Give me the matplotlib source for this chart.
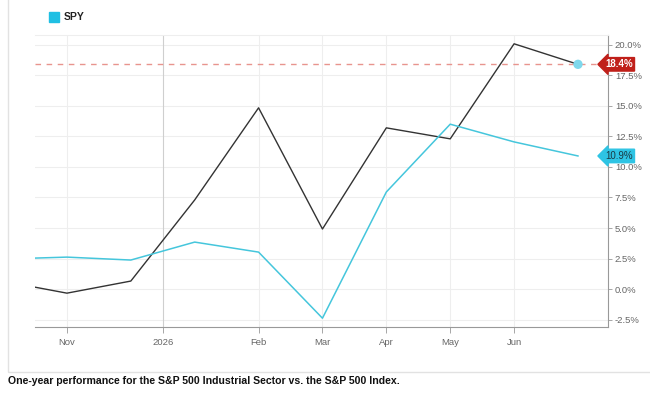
import matplotlib.pyplot as plt
from matplotlib.patches import Rectangle
import matplotlib.transforms as mtransforms

# time index of each sample (axis is category-like, one step per sample)
t = [-0.5, 0, 1, 2, 3, 4, 5, 6, 7, 8]
industrials = [0.16, -0.33, 0.66, 7.3, 14.84, 4.92, 13.2, 12.3, 20.08, 18.4]
spy = [2.54, 2.62, 2.38, 3.85, 3.03, -2.38, 7.95, 13.5, 12.05, 10.9]

tick_pos = [0, 1.5, 3, 4, 5, 6, 7]
tick_labels = ["Nov", "2026", "Feb", "Mar", "Apr", "May", "Jun"]
y_ticks = [-2.5, 0, 2.5, 5, 7.5, 10, 12.5, 15, 17.5, 20]

caption = "One-year performance for the S&P 500 Industrial Sector vs. the S&P 500 Index."

CYAN = "#45c6dc"
RED = "#c0201a"

fig = plt.figure(figsize=(6.5, 3.97), dpi=100)
plt.rcParams['font.family'] = ['Liberation Sans', 'DejaVu Sans']

# outer frame of the chart widget
frame = Rectangle((8 / 650, 1 - 372 / 397), 1.0, 1.0, transform=fig.transFigure,
                  fill=False, edgecolor="#e2e2e2", lw=1.0)
fig.patches.append(frame)

ax = fig.add_axes([35 / 650, 1 - 327 / 397, (608 - 35) / 650, (327 - 35) / 397])
ax.set_xlim(-0.5, 8.47)
ax.set_ylim(-3.1, 20.8)

# grid
for y in y_ticks:
    ax.axhline(y, color="#eeeeee", lw=0.8, zorder=0)
for x in tick_pos:
    col = "#cfcfcf" if x == 1.5 else "#eeeeee"
    ax.axvline(x, color=col, lw=0.8, zorder=0)

ax.plot(t, industrials, color="#333333", lw=1.0, zorder=3)
ax.plot(t, spy, color=CYAN, lw=1.1, zorder=3)

# reference line at the last value
ax.axhline(industrials[-1], color="#e8948e", lw=1.0, ls=(0, (4, 4)), zorder=2)
ax.scatter([t[-1]], [industrials[-1]], s=45, color="#7fd8ec", zorder=4, edgecolors="none")

ax.spines["left"].set_visible(False)
ax.spines["top"].set_color("#eeeeee")
ax.spines["right"].set_color("#999999")
ax.spines["bottom"].set_color("#999999")
ax.spines["right"].set_linewidth(0.8)
ax.spines["bottom"].set_linewidth(0.8)

ax.yaxis.tick_right()
ax.set_yticks(y_ticks)
ax.set_yticklabels([f"{v:.1f}%" for v in y_ticks])
ax.tick_params(axis="y", length=3, width=0.6, color="#999999", labelsize=6.8,
               labelcolor="#666666", pad=2)
ax.set_xticks(tick_pos)
ax.set_xticklabels(tick_labels)
ax.tick_params(axis="x", length=4, width=0.6, color="#999999", labelsize=6.8,
               labelcolor="#666666", pad=4)

# value tags on the right axis
trans = mtransforms.blended_transform_factory(ax.transAxes, ax.transData)
ax.text(0.995, industrials[-1], "18.4%", transform=trans, fontsize=7, color="white",
        fontweight="bold", va="center", ha="left", zorder=6, clip_on=False,
        bbox=dict(boxstyle="larrow,pad=0.18", fc=RED, ec=RED))
ax.text(0.995, spy[-1], "10.9%", transform=trans, fontsize=7, color="#1a3a44",
        va="center", ha="left", zorder=6, clip_on=False,
        bbox=dict(boxstyle="larrow,pad=0.18", fc="#2ec4e4", ec="#2ec4e4"))

# legend
fig.patches.append(Rectangle((49 / 650, 1 - 22 / 397), 10 / 650, 10 / 397,
                             transform=fig.transFigure, color="#1fbfe3"))
fig.text(64 / 650, 1 - 17 / 397, "SPY", fontsize=7.5, fontweight="bold",
         color="#222222", va="center", ha="left")

fig.text(8 / 650, 1 - 381 / 397, caption, fontsize=7.6, fontweight="bold",
         color="#111111", va="center", ha="left")

fig.savefig("out.png", dpi=100)
